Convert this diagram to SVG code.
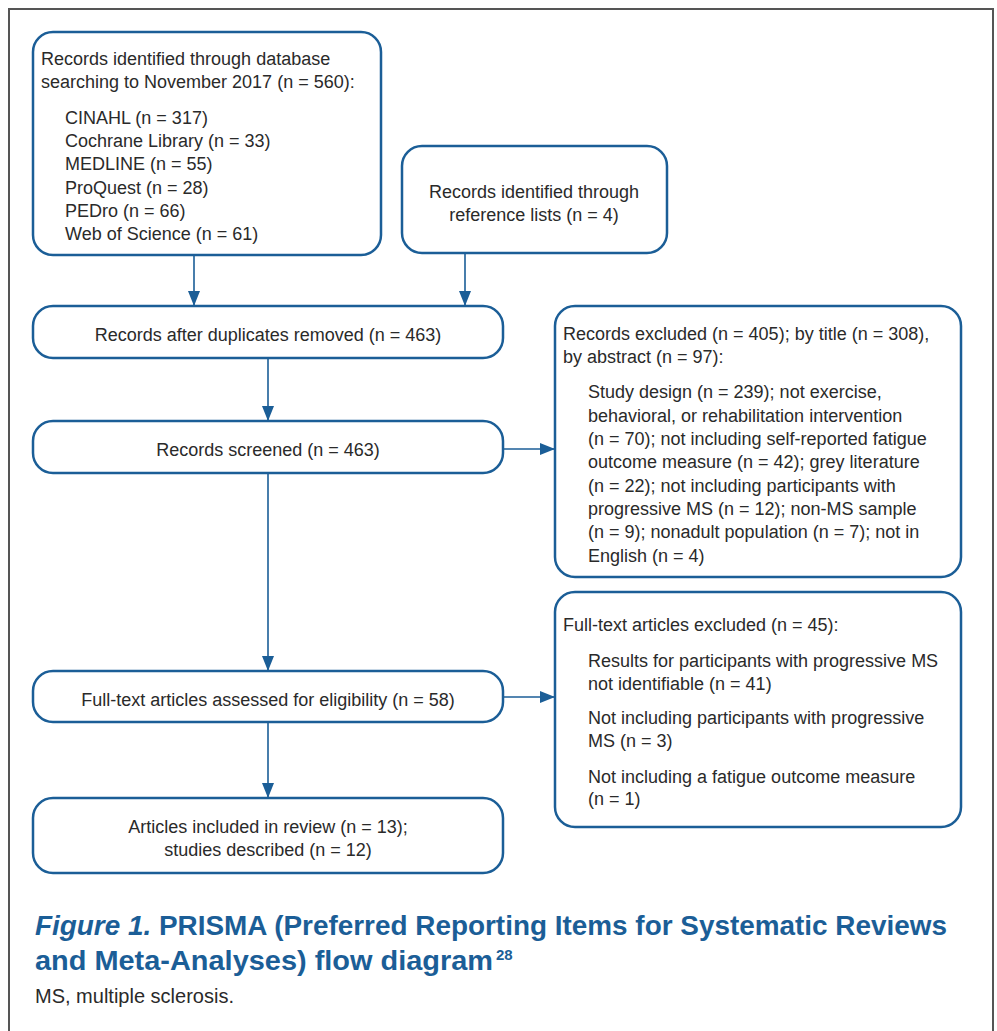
<svg xmlns="http://www.w3.org/2000/svg" width="997" height="1031" viewBox="0 0 997 1031">
<defs>
<style>
.box{fill:#ffffff;stroke:#1b5e97;stroke-width:2.5}
.t{font-family:"Liberation Sans",Arial,sans-serif;font-size:18px;fill:#2a2a2a}
.c{text-anchor:middle}
.conn{stroke:#1b5e97;stroke-width:1.6;fill:none}
.cap{font-family:"Liberation Sans",Arial,sans-serif;font-size:27px;font-weight:bold;fill:#1b5e97}
.sup{font-family:"Liberation Sans",Arial,sans-serif;font-size:15px;font-weight:bold;fill:#1b5e97}
.note{font-family:"Liberation Sans",Arial,sans-serif;font-size:20px;fill:#2a2a2a}
</style>
<marker id="ah" markerUnits="userSpaceOnUse" markerWidth="16" markerHeight="12" refX="15" refY="6" orient="auto">
<path d="M0,0 L15,6 L0,12 z" fill="#1b5e97"/>
</marker>
</defs>
<rect x="0" y="0" width="997" height="1031" fill="#ffffff"/>
<path d="M9,1035 L9,9 L993,9 L993,1035" fill="none" stroke="#555555" stroke-width="2"/>

<g id="connectors">
<line class="conn" x1="194" y1="255" x2="194" y2="306" marker-end="url(#ah)"/>
<line class="conn" x1="465" y1="253" x2="465" y2="306" marker-end="url(#ah)"/>
<line class="conn" x1="268" y1="358" x2="268" y2="421" marker-end="url(#ah)"/>
<line class="conn" x1="503" y1="449" x2="555" y2="449" marker-end="url(#ah)"/>
<line class="conn" x1="268" y1="473" x2="268" y2="671" marker-end="url(#ah)"/>
<line class="conn" x1="503" y1="697" x2="555" y2="697" marker-end="url(#ah)"/>
<line class="conn" x1="268" y1="722" x2="268" y2="798" marker-end="url(#ah)"/>
</g>

<g id="db-records">
<rect class="box" x="33" y="32" width="348" height="223" rx="20"/>
<text class="t" x="41" y="65">Records identified through database</text>
<text class="t" x="41" y="88">searching to November 2017 (n = 560):</text>
<text class="t" x="65" y="124">CINAHL (n = 317)</text>
<text class="t" x="65" y="147">Cochrane Library (n = 33)</text>
<text class="t" x="65" y="170">MEDLINE (n = 55)</text>
<text class="t" x="65" y="194">ProQuest (n = 28)</text>
<text class="t" x="65" y="217">PEDro (n = 66)</text>
<text class="t" x="65" y="240">Web of Science (n = 61)</text>
</g>

<g id="ref-records">
<rect class="box" x="402" y="146" width="265" height="107" rx="20"/>
<text class="t c" x="534" y="198">Records identified through</text>
<text class="t c" x="534" y="221">reference lists (n = 4)</text>
</g>

<g id="dedup">
<rect class="box" x="33" y="306" width="470" height="52" rx="20"/>
<text class="t c" x="268" y="341">Records after duplicates removed (n = 463)</text>
</g>

<g id="screened">
<rect class="box" x="33" y="421" width="470" height="52" rx="20"/>
<text class="t c" x="268" y="456">Records screened (n = 463)</text>
</g>

<g id="excluded-records">
<rect class="box" x="555" y="306" width="406" height="271" rx="20"/>
<text class="t" x="563" y="340">Records excluded (n = 405); by title (n = 308),</text>
<text class="t" x="563" y="363">by abstract (n = 97):</text>
<text class="t" x="588" y="398">Study design (n = 239); not exercise,</text>
<text class="t" x="588" y="421.5">behavioral, or rehabilitation intervention</text>
<text class="t" x="588" y="445">(n = 70); not including self-reported fatigue</text>
<text class="t" x="588" y="468.3">outcome measure (n = 42); grey literature</text>
<text class="t" x="588" y="491.7">(n = 22); not including participants with</text>
<text class="t" x="588" y="515">progressive MS (n = 12); non-MS sample</text>
<text class="t" x="588" y="538.3">(n = 9); nonadult population (n = 7); not in</text>
<text class="t" x="588" y="561.7">English (n = 4)</text>
</g>

<g id="fulltext">
<rect class="box" x="33" y="671" width="470" height="51" rx="20"/>
<text class="t c" x="268" y="706">Full-text articles assessed for eligibility (n = 58)</text>
</g>

<g id="excluded-fulltext">
<rect class="box" x="555" y="592" width="406" height="235" rx="20"/>
<text class="t" x="563" y="631">Full-text articles excluded (n = 45):</text>
<text class="t" x="588" y="667">Results for participants with progressive MS</text>
<text class="t" x="588" y="690">not identifiable (n = 41)</text>
<text class="t" x="588" y="724">Not including participants with progressive</text>
<text class="t" x="588" y="747">MS (n = 3)</text>
<text class="t" x="588" y="783">Not including a fatigue outcome measure</text>
<text class="t" x="588" y="805">(n = 1)</text>
</g>

<g id="included">
<rect class="box" x="33" y="798" width="470" height="75" rx="20"/>
<text class="t c" x="268" y="833">Articles included in review (n = 13);</text>
<text class="t c" x="268" y="856">studies described (n = 12)</text>
</g>

<g id="caption">
<text class="cap" x="35" y="935" textLength="912" lengthAdjust="spacingAndGlyphs"><tspan font-style="italic">Figure 1.</tspan> PRISMA (Preferred Reporting Items for Systematic Reviews</text>
<text class="cap" x="35" y="970" textLength="458" lengthAdjust="spacingAndGlyphs">and Meta-Analyses) flow diagram</text>
<text class="sup" x="496" y="960">28</text>
<text class="note" x="35" y="1003">MS, multiple sclerosis.</text>
</g>
</svg>
